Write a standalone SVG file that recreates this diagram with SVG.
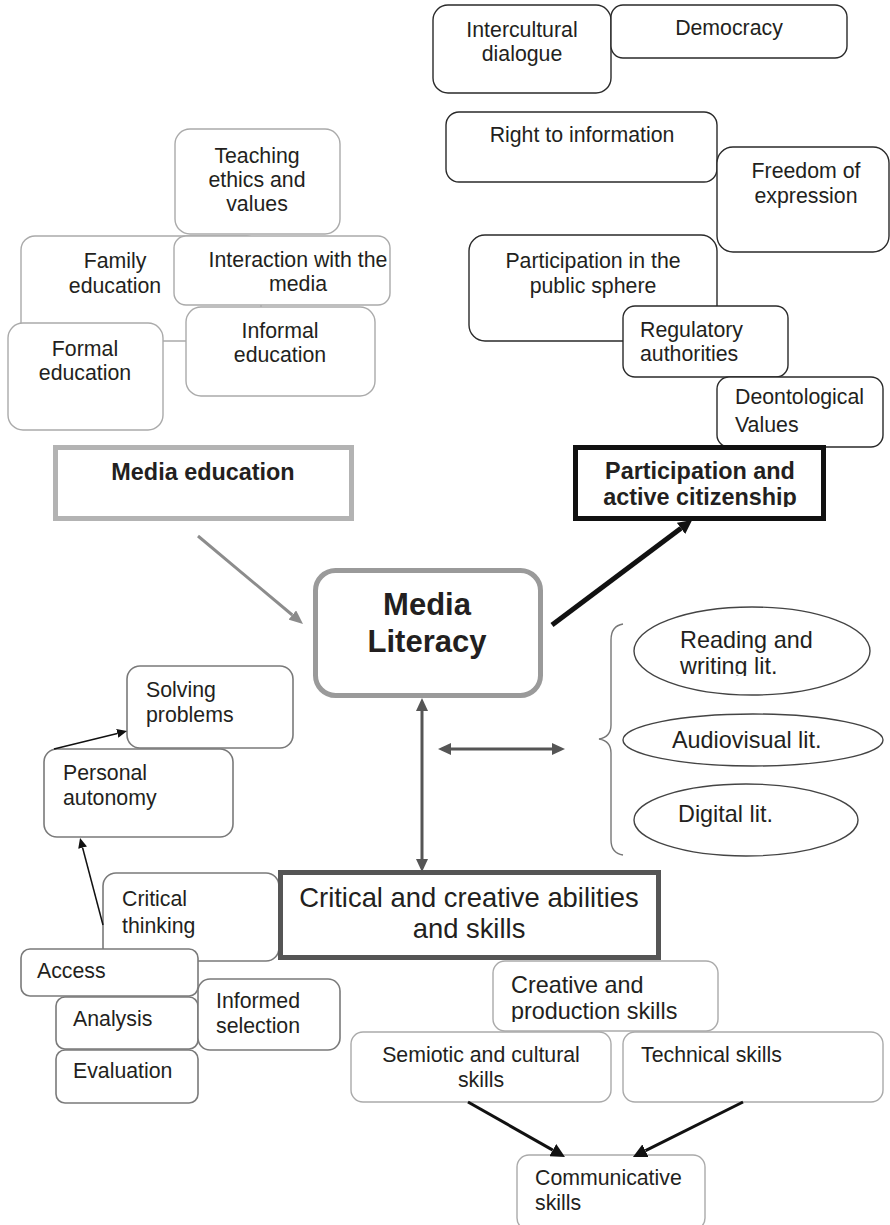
<svg xmlns="http://www.w3.org/2000/svg" width="890" height="1225" viewBox="0 0 890 1225">
<style>
text{font-family:"Liberation Sans",Arial,sans-serif;fill:#231f20;font-size:21.3px}
.c{text-anchor:middle}
.lg{fill:#fff;stroke:#aaaaaa;stroke-width:1.4}
.dk{fill:#fff;stroke:#2a2a2a;stroke-width:1.4}
.md{fill:#fff;stroke:#7a7a7a;stroke-width:1.6}
.big{font-size:23.4px}
.b{font-weight:bold;font-size:23.4px}
</style>
<defs>
<marker id="ag" markerWidth="14" markerHeight="12" refX="0" refY="6" orient="auto" markerUnits="userSpaceOnUse"><path d="M0,0 L14,6 L0,12 z" fill="#8c8c8c"/></marker>
<marker id="ab" markerWidth="14" markerHeight="14" refX="0" refY="7" orient="auto" markerUnits="userSpaceOnUse"><path d="M0,0 L14,7 L0,14 z" fill="#111"/></marker>
<marker id="ad" markerWidth="13" markerHeight="12" refX="0" refY="6" orient="auto-start-reverse" markerUnits="userSpaceOnUse"><path d="M0,0 L13,6 L0,12 z" fill="#555"/></marker>
<marker id="as" markerWidth="10" markerHeight="9" refX="0" refY="4.5" orient="auto" markerUnits="userSpaceOnUse"><path d="M0,0 L10,4.5 L0,9 z" fill="#111"/></marker>
<clipPath id="clipPart"><rect x="580" y="450" width="240" height="57"/></clipPath>
<clipPath id="clipRead"><rect x="640" y="610" width="230" height="66"/></clipPath>
<clipPath id="clipCre"><rect x="495" y="963" width="220" height="59"/></clipPath>
</defs>

<g id="family-education"><rect class="lg" x="21" y="236" width="240" height="105" rx="14"/><text class="c" x="115" y="268">Family</text><text class="c" x="115" y="293">education</text></g>
<g id="teaching-ethics"><rect class="lg" x="175" y="129" width="165" height="105" rx="15"/><text class="c" x="257" y="162.7">Teaching</text><text class="c" x="257" y="186.7">ethics and</text><text class="c" x="257" y="210.7">values</text></g>
<g id="interaction-media"><rect class="lg" x="174" y="236" width="216" height="69" rx="12"/><text class="c" x="298" y="266.7">Interaction with the</text><text class="c" x="298" y="290.7">media</text></g>
<g id="formal-education"><rect class="lg" x="8" y="323" width="155" height="107" rx="15"/><text class="c" x="85" y="356">Formal</text><text class="c" x="85" y="380">education</text></g>
<g id="informal-education"><rect class="lg" x="186" y="307" width="189" height="89" rx="15"/><text class="c" x="280" y="338">Informal</text><text class="c" x="280" y="362">education</text></g>

<g id="intercultural-dialogue"><rect class="dk" x="433" y="5" width="178" height="88" rx="15"/><text class="c" x="522" y="37">Intercultural</text><text class="c" x="522" y="61">dialogue</text></g>
<g id="democracy"><rect class="dk" x="611" y="5" width="236" height="53" rx="12"/><text class="c" x="729" y="35">Democracy</text></g>
<g id="right-to-information"><rect class="dk" x="446" y="112" width="271" height="70" rx="13"/><text class="c" x="582" y="142">Right to information</text></g>
<g id="freedom-of-expression"><rect class="dk" x="717" y="147" width="172" height="105" rx="16"/><text class="c" x="806" y="178">Freedom of</text><text class="c" x="806" y="203">expression</text></g>
<g id="participation-public-sphere"><rect class="dk" x="469" y="235" width="248" height="106" rx="16"/><text class="c" x="593" y="268">Participation in the</text><text class="c" x="593" y="293">public sphere</text></g>
<g id="regulatory-authorities"><rect class="dk" x="623" y="306" width="165" height="71" rx="12"/><text x="640" y="337">Regulatory</text><text x="640" y="361">authorities</text></g>
<g id="deontological-values"><rect class="dk" x="717" y="377" width="166" height="70" rx="12"/><text x="735" y="404">Deontological</text><text x="735" y="432">Values</text></g>
<g id="participation-citizenship"><rect x="575.5" y="447.5" width="248" height="71" fill="#fff" stroke="#111" stroke-width="5"/><g clip-path="url(#clipPart)"><text class="c b" x="700" y="479">Participation and</text><text class="c b" x="700" y="505">active citizenship</text></g></g>

<g id="media-education"><rect x="55.5" y="447.5" width="296" height="71" fill="#fff" stroke="#b3b3b3" stroke-width="5"/><text class="c b" x="203" y="480">Media education</text></g>

<g id="media-literacy"><rect x="315.5" y="570.5" width="225" height="125" rx="20" fill="#fff" stroke="#9a9a9a" stroke-width="5"/><text class="c" x="427" y="615" style="font-weight:bold;font-size:31px">Media</text><text class="c" x="427" y="652" style="font-weight:bold;font-size:31px">Literacy</text></g>

<g id="reading-writing"><ellipse cx="752" cy="651" rx="118" ry="44" fill="#fff" stroke="#444" stroke-width="1.4"/><g clip-path="url(#clipRead)"><text class="big" x="680" y="648">Reading and</text><text class="big" x="680" y="674">writing lit.</text></g></g>
<g id="audiovisual"><ellipse cx="753" cy="740" rx="130" ry="26" fill="#fff" stroke="#444" stroke-width="1.4"/><text class="big" x="672" y="748">Audiovisual lit.</text></g>
<g id="digital"><ellipse cx="746" cy="820" rx="112" ry="36" fill="#fff" stroke="#444" stroke-width="1.4"/><text class="big" x="678" y="822">Digital lit.</text></g>
<g id="brace"><path d="M623,624 Q611,626 611,640 L611,725 Q611,737 599,739 Q611,741 611,753 L611,840 Q611,853 623,855" fill="none" stroke="#777" stroke-width="1.4"/></g>

<g id="solving-problems"><rect class="md" x="127" y="666" width="166" height="82" rx="13"/><text x="146" y="697">Solving</text><text x="146" y="722">problems</text></g>
<g id="personal-autonomy"><rect class="md" x="44" y="749" width="189" height="88" rx="13"/><text x="63" y="780">Personal</text><text x="63" y="805">autonomy</text></g>
<g id="critical-thinking"><rect class="md" x="103" y="873" width="176" height="88" rx="13"/><text x="122" y="906">Critical</text><text x="122" y="933">thinking</text></g>
<g id="access"><rect class="md" x="21" y="949" width="177" height="47" rx="9"/><text x="37" y="978">Access</text></g>
<g id="analysis"><rect class="md" x="56" y="997" width="142" height="52" rx="9"/><text x="73" y="1026">Analysis</text></g>
<g id="evaluation"><rect class="md" x="56" y="1050" width="142" height="53" rx="9"/><text x="73" y="1078">Evaluation</text></g>
<g id="informed-selection"><rect class="md" x="198" y="979" width="142" height="71" rx="12"/><text x="216" y="1008">Informed</text><text x="216" y="1033">selection</text></g>

<g id="critical-creative"><rect x="280.5" y="872.5" width="378" height="85" fill="#fff" stroke="#555" stroke-width="5"/><text class="c" x="469" y="907" style="font-size:27.4px">Critical and creative abilities</text><text class="c" x="469" y="938" style="font-size:27.4px">and skills</text></g>

<g id="creative-production"><rect class="lg" x="493" y="961" width="225" height="70" rx="12"/><g clip-path="url(#clipCre)"><text class="big" x="511" y="993">Creative and</text><text class="big" x="511" y="1019">production skills</text></g></g>
<g id="semiotic-cultural"><rect class="lg" x="351" y="1032" width="260" height="70" rx="12"/><text class="c" x="481" y="1062">Semiotic and cultural</text><text class="c" x="481" y="1087">skills</text></g>
<g id="technical-skills"><rect class="lg" x="623" y="1032" width="260" height="70" rx="12"/><text x="641" y="1062">Technical skills</text></g>
<g id="communicative-skills"><rect class="lg" x="517" y="1155" width="188" height="75" rx="12"/><text x="535" y="1185">Communicative</text><text x="535" y="1210">skills</text></g>

<g id="connectors" fill="none">
<line x1="198" y1="536" x2="292.3" y2="615" stroke="#8c8c8c" stroke-width="3" marker-end="url(#ag)"/>
<line x1="552" y1="625" x2="681" y2="528.3" stroke="#111" stroke-width="5" marker-end="url(#ab)"/>
<line x1="422" y1="711" x2="422" y2="859" stroke="#555" stroke-width="3" marker-start="url(#ad)" marker-end="url(#ad)"/>
<line x1="451" y1="749" x2="552" y2="749" stroke="#555" stroke-width="3" marker-start="url(#ad)" marker-end="url(#ad)"/>
<line x1="54" y1="749" x2="117.3" y2="733.4" stroke="#111" stroke-width="1.5" marker-end="url(#as)"/>
<line x1="103" y1="925" x2="82.6" y2="847.7" stroke="#111" stroke-width="1.5" marker-end="url(#as)"/>
<line x1="468" y1="1102" x2="552.8" y2="1150.1" stroke="#111" stroke-width="3" marker-end="url(#ab)"/>
<line x1="743" y1="1102" x2="645.5" y2="1150.7" stroke="#111" stroke-width="3" marker-end="url(#ab)"/>
</g>
</svg>
